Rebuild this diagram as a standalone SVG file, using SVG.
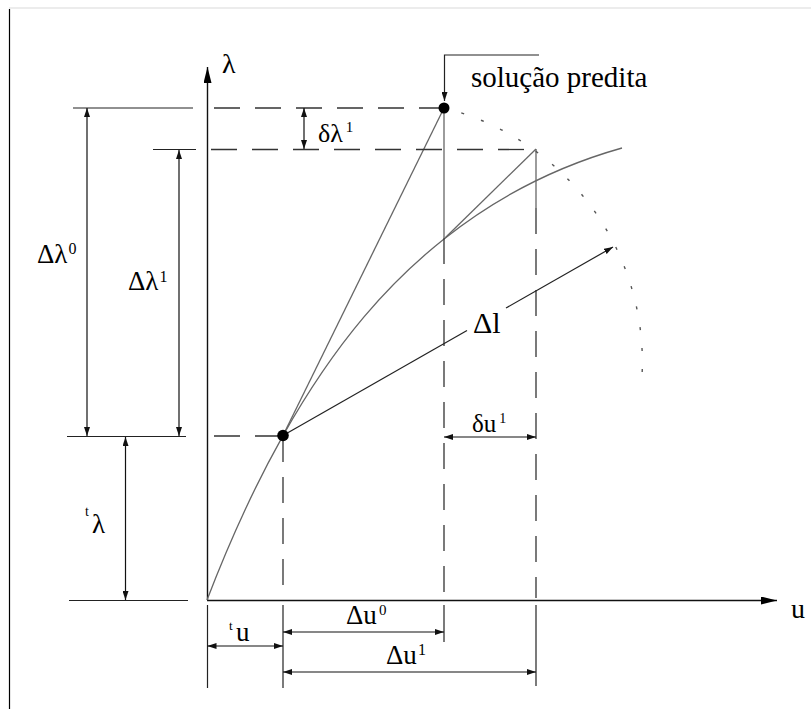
<svg xmlns="http://www.w3.org/2000/svg" width="811" height="709" viewBox="0 0 811 709">
<defs>
<marker id="ah" markerUnits="userSpaceOnUse" markerWidth="9" markerHeight="6" refX="9" refY="3" orient="auto-start-reverse"><path d="M0,0 L9,3 L0,6 z" fill="#111"/></marker>
<marker id="axh" markerUnits="userSpaceOnUse" markerWidth="16" markerHeight="8" refX="16" refY="4" orient="auto"><path d="M0,0 L16,4 L0,8 z" fill="#000"/></marker>
</defs>
<style>
.frame{stroke:#000;stroke-width:1.2;fill:none}
.ax{stroke:#111;stroke-width:1.4;fill:none}
.ln{stroke:#222;stroke-width:1.2;fill:none}
.gr{stroke:#666;stroke-width:1.3;fill:none}
.ds{stroke:#333;stroke-width:1.3;fill:none;stroke-dasharray:26 15}
.dot{stroke:#555;stroke-width:1.4;fill:none;stroke-dasharray:3 18;stroke-dashoffset:-18}
.dim{stroke:#111;stroke-width:1.2;fill:none;marker-start:url(#ah);marker-end:url(#ah)}
</style>
<rect width="811" height="709" fill="#fff"/>
<line x1="9" y1="8" x2="811" y2="8" stroke="#e6e6e6" stroke-width="1.5"/>
<line class="frame" x1="9.5" y1="9" x2="9.5" y2="709"/>

<g font-family="'Liberation Serif','DejaVu Serif','Times New Roman',serif" fill="#000" font-size="27">
<g id="axes">
<line class="ax" x1="207.5" y1="600" x2="207.5" y2="67" marker-end="url(#axh)"/>
<line class="ax" x1="207" y1="600.5" x2="777" y2="600.5" marker-end="url(#axh)"/>
<text x="222" y="73" font-size="28">λ</text>
<text x="791" y="618" font-size="28">u</text>
</g>

<g id="connectors">
<path class="gr" d="M207,600 C232.3,534.1 257.7,480.6 283,435.6 C337,339.6 391,280.9 445,238.2 C504,191.5 563,164.6 622,148"/>
<line class="gr" x1="283" y1="435.5" x2="444" y2="108"/>
<line class="gr" x1="536" y1="149" x2="445" y2="238"/>
<line class="gr" x1="444" y1="108" x2="444" y2="238"/>
<line class="ds" x1="444" y1="238" x2="444" y2="598"/>
<line class="gr" x1="536" y1="149" x2="536" y2="208"/>
<line class="ds" x1="536" y1="208" x2="536" y2="598"/>
<line class="ds" x1="283" y1="436" x2="283" y2="598"/>
<line class="ds" x1="214" y1="108" x2="444" y2="108"/>
<line class="ds" x1="211" y1="149.5" x2="536" y2="149.5"/>
<line class="ds" x1="214" y1="436" x2="283" y2="436"/>
<path class="dot" d="M444,108 A262,262 0 0 1 642,376"/>
<line class="ln" x1="283" y1="435.5" x2="467" y2="330.5"/>
<line class="ln" x1="506" y1="308" x2="613" y2="247" marker-end="url(#ah)"/>
<polyline class="ln" points="539,55 444.5,55 444.5,101" marker-end="url(#ah)"/>
<line class="ln" x1="73" y1="108" x2="193" y2="108"/>
<line class="ln" x1="153" y1="149.5" x2="196" y2="149.5"/>
<line class="ln" x1="67" y1="436.5" x2="186" y2="436.5"/>
<line class="ln" x1="69" y1="600.5" x2="188" y2="600.5"/>
<line class="ln" x1="207.5" y1="605" x2="207.5" y2="688"/>
<line class="ln" x1="283" y1="605" x2="283" y2="688"/>
<line class="ln" x1="444" y1="605" x2="444" y2="642"/>
<line class="ln" x1="536" y1="605" x2="536" y2="686"/>
<line class="dim" x1="87" y1="108" x2="87" y2="436"/>
<line class="dim" x1="179" y1="150" x2="179" y2="436"/>
<line class="dim" x1="125.5" y1="437" x2="125.5" y2="600"/>
<line class="dim" x1="304" y1="108" x2="304" y2="149"/>
<line class="dim" x1="444" y1="437" x2="536" y2="437"/>
<line class="dim" x1="207.5" y1="646" x2="283" y2="646"/>
<line class="dim" x1="283" y1="632" x2="444" y2="632"/>
<line class="dim" x1="283" y1="672" x2="536" y2="672"/>
</g>

<g id="point-A"><circle cx="283" cy="435.5" r="5.8" fill="#000"/></g>
<g id="point-P"><circle cx="444" cy="108" r="5.5" fill="#000"/></g>

<g id="labels">
<text x="471" y="87" font-size="29">solução predita</text>
<text x="318" y="142" font-size="26">δλ<tspan dx="3" dy="-10" font-size="15">1</tspan></text>
<text x="37" y="263">Δλ<tspan dx="1" dy="-9" font-size="16">0</tspan></text>
<text x="128" y="290">Δλ<tspan dx="1" dy="-8" font-size="16">1</tspan></text>
<text x="85" y="516" font-size="14">t</text>
<text x="92" y="533">λ</text>
<text x="473" y="333" font-size="30">Δl</text>
<text x="472" y="432" font-size="25">δu<tspan dx="3" dy="-9" font-size="14">1</tspan></text>
<text x="229" y="630" font-size="13">t</text>
<text x="236" y="641">u</text>
<text x="346" y="624">Δu<tspan dx="2" dy="-9" font-size="15">0</tspan></text>
<text x="386" y="664">Δu<tspan dx="1" dy="-9" font-size="16">1</tspan></text>
</g>
</g>
</svg>
